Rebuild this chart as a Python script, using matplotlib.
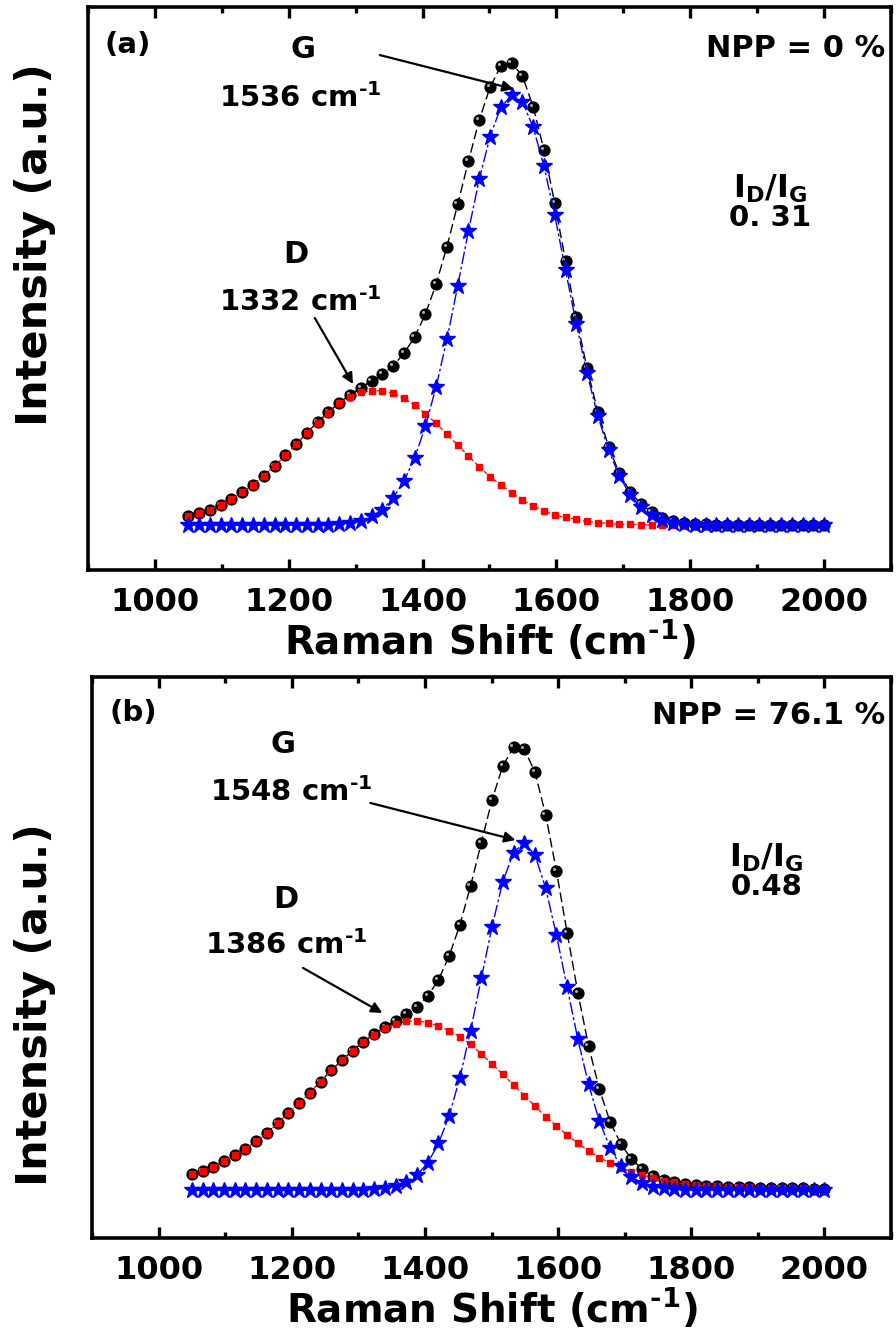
import numpy as np
import matplotlib
matplotlib.use('Agg')
import matplotlib.pyplot as plt
from matplotlib.ticker import MultipleLocator
from matplotlib.transforms import offset_copy

plt.rcParams['font.family'] = ['DejaVu Sans']
plt.rcParams['font.weight'] = 'bold'
plt.rcParams['mathtext.default'] = 'bf'

# Raman shift sampling (cm-1)
shift = [1050.0, 1066.1, 1082.2, 1098.3, 1114.4, 1130.5, 1146.6, 1162.7, 1178.8, 1194.9,
         1211.0, 1227.1, 1243.2, 1259.3, 1275.4, 1291.5, 1307.6, 1323.7, 1339.8, 1355.9,
         1372.0, 1388.1, 1404.2, 1420.3, 1436.4, 1452.5, 1468.6, 1484.7, 1500.8, 1516.9,
         1533.1, 1549.2, 1565.3, 1581.4, 1597.5, 1613.6, 1629.7, 1645.8, 1661.9, 1678.0,
         1694.1, 1710.2, 1726.3, 1742.4, 1758.5, 1774.6, 1790.7, 1806.8, 1822.9, 1839.0,
         1855.1, 1871.2, 1887.3, 1903.4, 1919.5, 1935.6, 1951.7, 1967.8, 1983.9, 2000.0]

# (a) NPP = 0 %
tot_a = [9, 11.7, 15, 20, 25.7, 32.7, 40.3, 49.3, 59, 69.7,
         80.7, 92.3, 103, 113, 122.3, 130, 137.5, 144, 150.8, 159,
         171.7, 187.7, 211, 241, 278.3, 320.7, 364, 405, 437.7, 459,
         462.3, 449, 418.3, 375, 321.7, 264.3, 207.7, 156.7, 113.3, 78.3,
         51.7, 33.3, 21, 12.7, 7, 4, 2, 1, 0.7, 0.5,
         0.5, 0.4, 0.3, 0.3, 0.2, 0.2, 0.1, 0.1, 0, 0]
d_a = [9, 11.7, 15, 20, 25.7, 32.7, 40.3, 49.3, 59, 69.7,
       80.7, 92, 102.5, 112.3, 121.7, 128.3, 132.7, 134.3, 134, 131.7,
       126.7, 120, 111.3, 101.7, 91, 80, 69, 58.3, 48.3, 40,
       32.3, 25, 19, 14.3, 10, 7.7, 5.7, 3.7, 2.3, 1.7,
       0.7, 0.7, 0.3, 0, 0, 0, 0, 0, 0, 0,
       0, 0, 0, 0, 0, 0, 0, 0, 0, 0]
g_a = [0, 0, 0, 0, 0, 0, 0, 0, 0, 0,
       0, 0, 0, 0, 1, 2.3, 4.3, 8.7, 15.3, 27,
       43.7, 67, 98.7, 138.3, 185.7, 239, 294, 345.7, 388.3, 417.7,
       430, 423.3, 397.7, 359, 310, 255, 201, 151.7, 109, 75,
       49, 30, 18.3, 10, 5, 2, 0.7, 0, 0, 0,
       0, 0, 0, 0, 0, 0, 0, 0, 0, 0]

# (b) NPP = 76.1 %
tot_b = [16, 19.3, 23.3, 28.7, 35, 41.3, 49, 57.3, 66.7, 76.7,
         86.7, 97.3, 108.3, 119.7, 129.7, 139.3, 148.2, 156, 162.7, 169.3,
         176, 183.3, 194, 210, 234, 265, 304, 347.3, 390, 424,
         442.7, 441, 417.7, 375, 319, 257.3, 197.3, 144, 101, 68.3,
         46, 31, 21, 14, 10, 7.7, 6, 5, 4, 3.5,
         3, 2.7, 2.5, 2.2, 2, 1.8, 1.6, 1.5, 1.4, 1.3]
d_b = [16, 19.3, 23.3, 28.7, 35, 41.3, 49, 57.3, 66.7, 76.7,
       86.7, 97.3, 108.3, 119.7, 129.7, 139.3, 148.2, 155.3, 161.7, 166,
       168.5, 169, 167.3, 164, 159.3, 153.3, 145.7, 136, 126, 115.7,
       105, 94.3, 84, 73.3, 64, 55, 46.7, 39, 32.3, 27.3,
       22.3, 18.3, 15, 11.7, 9.3, 7.7, 6, 5, 4, 3.5,
       3, 2.7, 2.5, 2.2, 2, 1.8, 1.6, 1.5, 1.4, 1.3]
g_b = [0, 0, 0, 0, 0, 0, 0, 0, 0, 0,
       0, 0, 0, 0, 0, 0, 0, 0.7, 1.7, 4.3,
       8.3, 15, 27, 46.5, 74, 112.3, 159.3, 211.7, 263.3, 308.3,
       337.3, 347.3, 335, 301.7, 255, 202.7, 150.7, 105.7, 69, 42.3,
       24, 13.3, 6.7, 3.3, 1.7, 0.8, 0, 0, 0, 0,
       0, 0, 0, 0, 0, 0, 0, 0, 0, 0]

xticks = [1000, 1200, 1400, 1600, 1800, 2000]
inv_cm = 'cm$^{\u20101}$'

fig = plt.figure(figsize=(8.96, 13.3), dpi=100)
ax_a = fig.add_axes([0.0982, 0.5714, 0.8962, 0.4233])
ax_b = fig.add_axes([0.1027, 0.0692, 0.8917, 0.4218])


def draw(ax, tot, d, g, ylim):
    ax.plot(shift, tot, color='black', lw=1.0, dashes=(7, 3), zorder=2)
    ax.plot(shift, tot, ls='none', marker='o', ms=7.8, mfc='black', mec='black', zorder=3)
    hl = offset_copy(ax.transData, fig=fig, x=-2.2, y=2.0, units='dots')
    ax.plot(shift, tot, ls='none', marker='o', ms=2.2, mfc='#a8a8a8', mec='none',
            transform=hl, zorder=3.1)
    ax.plot(shift, d, color='red', lw=0.9, dashes=(3, 2), marker='s', ms=4.2,
            mfc='red', mec='red', zorder=4)
    ax.plot(shift, g, color='blue', lw=1.0, dashes=(9, 2, 2, 2), marker='*', ms=12,
            mfc='blue', mec='blue', zorder=5)
    ax.set_xlim(900, 2100)
    ax.set_ylim(*ylim)
    ax.set_xticks(xticks)
    ax.xaxis.set_minor_locator(MultipleLocator(100))
    ax.set_yticks([])
    ax.tick_params(axis='x', which='both', direction='in', top=True, bottom=True,
                   labeltop=False, width=2.4, labelsize=23, pad=12)
    ax.tick_params(axis='x', which='major', length=8)
    ax.tick_params(axis='x', which='minor', length=4)
    for s in ax.spines.values():
        s.set_linewidth(2.6)
    ax.set_xlabel('Raman Shift (' + inv_cm + ')', fontsize=28, fontweight='bold', labelpad=0)


draw(ax_a, tot_a, d_a, g_a, (-45, 518))
draw(ax_b, tot_b, d_b, g_b, (-48, 513))

arr = dict(arrowstyle='-|>', color='black', lw=1.6, mutation_scale=16, shrinkA=0, shrinkB=0)

# panel (a) labels
ax_a.text(0.05, 0.932, '(a)', transform=ax_a.transAxes, fontsize=21, ha='center', va='center')
ax_a.text(0.268, 0.925, 'G', transform=ax_a.transAxes, fontsize=22, ha='center', va='center')
ax_a.text(0.264, 0.838, '1536 ' + inv_cm, transform=ax_a.transAxes, fontsize=21, ha='center', va='center')
ax_a.text(0.259, 0.56, 'D', transform=ax_a.transAxes, fontsize=22, ha='center', va='center')
ax_a.text(0.264, 0.476, '1332 ' + inv_cm, transform=ax_a.transAxes, fontsize=21, ha='center', va='center')
ax_a.text(0.993, 0.927, 'NPP = 0 %', transform=ax_a.transAxes, fontsize=22, ha='right', va='center')
ax_a.text(0.85, 0.678, '$I_D/I_G$', transform=ax_a.transAxes, fontsize=23, ha='center', va='center')
ax_a.text(0.85, 0.625, '0. 31', transform=ax_a.transAxes, fontsize=21, ha='center', va='center')
ax_a.annotate('', xy=(1536, 436), xytext=(1336, 470), arrowprops=arr)
ax_a.annotate('', xy=(1296, 141), xytext=(1239, 207), arrowprops=arr)

# panel (b) labels
ax_b.text(0.052, 0.936, '(b)', transform=ax_b.transAxes, fontsize=21, ha='center', va='center')
ax_b.text(0.239, 0.879, 'G', transform=ax_b.transAxes, fontsize=22, ha='center', va='center')
ax_b.text(0.249, 0.795, '1548 ' + inv_cm, transform=ax_b.transAxes, fontsize=21, ha='center', va='center')
ax_b.text(0.243, 0.6025, 'D', transform=ax_b.transAxes, fontsize=22, ha='center', va='center')
ax_b.text(0.243, 0.522, '1386 ' + inv_cm, transform=ax_b.transAxes, fontsize=21, ha='center', va='center')
ax_b.text(0.993, 0.932, 'NPP = 76.1 %', transform=ax_b.transAxes, fontsize=22, ha='right', va='center')
ax_b.text(0.844, 0.677, '$I_D/I_G$', transform=ax_b.transAxes, fontsize=23, ha='center', va='center')
ax_b.text(0.844, 0.626, '0.48', transform=ax_b.transAxes, fontsize=21, ha='center', va='center')
ax_b.annotate('', xy=(1536, 350), xytext=(1318, 387), arrowprops=arr)
ax_b.annotate('', xy=(1336, 177), xytext=(1217, 222), arrowprops=arr)

fig.text(0.039, 0.8158, 'Intensity (a.u.)', rotation=90, fontsize=31, ha='center', va='center')
fig.text(0.039, 0.245, 'Intensity (a.u.)', rotation=90, fontsize=31, ha='center', va='center')

fig.savefig('out.png', dpi=100)
